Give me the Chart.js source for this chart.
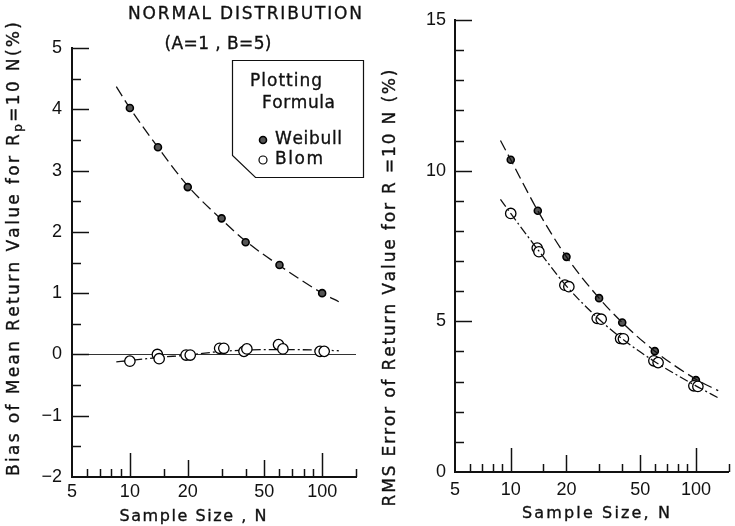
<!DOCTYPE html>
<html>
<head>
<meta charset="utf-8">
<script src="https://cdn.jsdelivr.net/npm/chart.js@4.4.1/dist/chart.umd.min.js"></script>
<style>
html,body{margin:0;padding:0;background:#fff;}
#wrap{position:relative;width:735px;height:526px;overflow:hidden;}
#left{position:absolute;left:0;top:0;}
#right{position:absolute;left:370px;top:0;}
</style>
</head>
<body>
<div id="wrap">
<canvas id="left" width="370" height="526"></canvas>
<canvas id="right" width="365" height="526"></canvas>
</div>
<script>
// sample sizes
var sampleN = [10, 14, 20, 30, 40, 60, 100];
var blomN = [10, 13.9, 14.2, 19.6, 20.6, 29.3, 30.8, 39.2, 40.6, 59.3, 62.5, 97.5, 102.5];
// left panel: bias of mean return value (%)
var biasWeibull = [4.02, 3.38, 2.73, 2.22, 1.83, 1.46, 1.0];
var biasBlom = [-0.11, 0.0, -0.07, -0.01, -0.01, 0.10, 0.10, 0.05, 0.09, 0.16, 0.09, 0.05, 0.05];
// fitted curves
var curveNLeft = [8.5, 10, 14, 20, 30, 40, 60, 100, 122];
var biasWeibullFit = [4.37, 4.02, 3.38, 2.75, 2.2, 1.85, 1.45, 1.0, 0.86];
var biasBlomFit = [-0.12, -0.1, -0.05, -0.01, 0.05, 0.07, 0.08, 0.07, 0.06];
// right panel: rms error of return value (%)
var rmsWeibull = [10.36, 8.67, 7.14, 5.77, 4.96, 4.01, 3.05];
var rmsBlom = [8.58, 7.43, 7.31, 6.2, 6.15, 5.10, 5.07, 4.43, 4.42, 3.69, 3.63, 2.86, 2.84];
var curveNRight = [8.8, 10, 14, 20, 30, 40, 60, 100, 132];
var rmsWeibullFit = [11.0, 10.36, 8.67, 7.14, 5.77, 4.96, 4.01, 3.08, 2.7];
var rmsBlomFit = [9.05, 8.58, 7.38, 6.17, 5.07, 4.42, 3.66, 2.86, 2.46];
// axis ticks
var xTicks = [5, 10, 20, 50, 100];
var xMinor = [6, 7, 8, 9, 15, 30, 40, 60, 70, 80, 90, 150];
var yTicksLeft = [-1, 0, 1, 2, 3, 4, 5];
var yMinorLeft = [-1.5, -0.5, 0.5, 1.5, 2.5, 3.5, 4.5];
var yTicksRight = [5, 10, 15];
var yMinorRight = [1, 2, 3, 4, 6, 7, 8, 9, 11, 12, 13, 14];

var INK = '#111';
var FONT = '17px "DejaVu Sans"';

function pts(xs, ys) {
    return xs.map(function (x, i) { return {x: x, y: ys[i]}; });
}
function weibullSet(xs, ys) {
    return {data: pts(xs, ys), pointRadius: 3.5, pointBackgroundColor: '#555',
        pointBorderColor: '#000', pointBorderWidth: 1.6, showLine: false};
}
function blomSet(xs, ys) {
    return {data: pts(xs, ys), pointRadius: 5.2, pointBackgroundColor: '#fff',
        pointBorderColor: '#000', pointBorderWidth: 1.3, showLine: false};
}
function fitSet(xs, ys, dash) {
    return {data: pts(xs, ys), showLine: true, pointRadius: 0, borderColor: INK,
        borderWidth: 1.3, borderDash: dash, cubicInterpolationMode: 'monotone', fill: false};
}

// draws text spread out to a given length, char by char
function spacedText(ctx, parts, cx, cy, width, rot) {
    ctx.save();
    ctx.translate(cx, cy);
    if (rot) ctx.rotate(rot);
    ctx.textBaseline = 'middle';
    ctx.textAlign = 'left';
    ctx.fillStyle = INK;
    ctx.strokeStyle = INK;
    ctx.lineWidth = 0.35;
    var chars = [];
    parts.forEach(function (p) {
        for (var c of p.t) chars.push({c: c, font: p.font || FONT, dy: p.dy || 0});
    });
    var nat = 0;
    chars.forEach(function (ch) { ctx.font = ch.font; ch.w = ctx.measureText(ch.c).width; nat += ch.w; });
    var gap = chars.length > 1 ? (width - nat) / (chars.length - 1) : 0;
    var x = -width / 2;
    chars.forEach(function (ch) {
        ctx.font = ch.font;
        ctx.fillText(ch.c, x, ch.dy);
        ctx.strokeText(ch.c, x, ch.dy);
        x += ch.w + gap;
    });
    ctx.restore();
}

// inward tick marks on both axes
function drawTicks(chart, yMajor, yMinor) {
    var ctx = chart.ctx, a = chart.chartArea, xs = chart.scales.x, ys = chart.scales.y;
    ctx.save();
    ctx.setLineDash([]);
    ctx.strokeStyle = INK;
    ctx.lineWidth = 1.5;
    xTicks.concat(xMinor).forEach(function (v) {
        if (v === 5) return;
        var px = Math.round(xs.getPixelForValue(v)) + 0.5;
        var len = (v === 10 || v === 100) ? 24 : (v === 20 || v === 50) ? 17 : 8;
        ctx.beginPath();
        ctx.moveTo(px, a.bottom);
        ctx.lineTo(px, a.bottom - len);
        ctx.stroke();
    });
    yMajor.forEach(function (v) {
        var py = Math.round(ys.getPixelForValue(v)) + 0.5;
        ctx.beginPath();
        ctx.moveTo(a.left, py);
        ctx.lineTo(a.left + 17, py);
        ctx.stroke();
    });
    yMinor.forEach(function (v) {
        var py = Math.round(ys.getPixelForValue(v)) + 0.5;
        ctx.beginPath();
        ctx.moveTo(a.left, py);
        ctx.lineTo(a.left + 9, py);
        ctx.stroke();
    });
    ctx.restore();
}

function marker(ctx, ds, x, y) {
    ctx.beginPath();
    ctx.arc(x, y, ds.pointRadius, 0, Math.PI * 2);
    ctx.fillStyle = ds.pointBackgroundColor;
    ctx.fill();
    ctx.lineWidth = ds.pointBorderWidth;
    ctx.strokeStyle = ds.pointBorderColor;
    ctx.stroke();
}

var leftDeco = {
    id: 'leftDeco',
    beforeDatasetsDraw: function (chart) {
        var ctx = chart.ctx, a = chart.chartArea, py = Math.round(chart.scales.y.getPixelForValue(0)) + 0.5;
        ctx.save();
        ctx.strokeStyle = '#333';
        ctx.lineWidth = 1;
        ctx.beginPath();
        ctx.moveTo(a.left, py);
        ctx.lineTo(a.right, py);
        ctx.stroke();
        ctx.restore();
    },
    afterDraw: function (chart) {
        var ctx = chart.ctx;
        drawTicks(chart, yTicksLeft, yMinorLeft);
        spacedText(ctx, [{t: 'NORMAL DISTRIBUTION'}], 245, 15, 234);
        spacedText(ctx, [{t: '(A=1 , B=5)'}], 218, 45, 107);
        spacedText(ctx, [{t: 'Sample Size , N', font: '16px "DejaVu Sans"'}], 193, 517, 147);
        spacedText(ctx, [
            {t: 'Bias of Mean Return Value for R'},
            {t: 'p', font: '12px "DejaVu Sans"', dy: 4},
            {t: '=10 N(%)'}
        ], 15, 249, 454, -Math.PI / 2);
        // legend box
        ctx.save();
        ctx.strokeStyle = INK;
        ctx.lineWidth = 1.2;
        ctx.beginPath();
        ctx.moveTo(232.5, 60.5);
        ctx.lineTo(363.5, 60.5);
        ctx.lineTo(363.5, 177.5);
        ctx.lineTo(255.5, 177.5);
        ctx.lineTo(232.5, 155.5);
        ctx.closePath();
        ctx.stroke();
        var ds = chart.data.datasets;
        marker(ctx, ds[0], 263, 140);
        marker(ctx, {pointRadius: 4, pointBackgroundColor: '#fff', pointBorderColor: '#000', pointBorderWidth: 1.2}, 263, 160);
        ctx.restore();
        spacedText(ctx, [{t: 'Plotting'}], 286, 82, 72);
        spacedText(ctx, [{t: 'Formula'}], 298.5, 104, 73);
        spacedText(ctx, [{t: 'Weibull'}], 308.5, 140, 67);
        spacedText(ctx, [{t: 'Blom'}], 299, 160, 48);
    }
};

var rightDeco = {
    id: 'rightDeco',
    afterDraw: function (chart) {
        var ctx = chart.ctx;
        drawTicks(chart, yTicksRight, yMinorRight);
        spacedText(ctx, [{t: 'Sample Size, N', font: '16px "DejaVu Sans"'}], 226, 514, 148);
        spacedText(ctx, [{t: 'RMS Error of Return Value for R =10 N (%)'}], 21, 288, 437, -Math.PI / 2);
    }
};

function xScale(h, pad) {
    return {
        type: 'logarithmic', min: 5, max: 150,
        afterBuildTicks: function (s) { s.ticks = xTicks.map(function (v) { return {value: v}; }); },
        afterFit: function (s) { s.height = h; },
        grid: {display: false, drawTicks: false},
        border: {display: true, color: INK, width: 2},
        ticks: {color: INK, font: {family: 'Liberation Sans', size: 18}, padding: pad,
            autoSkip: false, maxRotation: 0, callback: function (v) { return String(v); }}
    };
}
function yScale(w, min, max, step, pad) {
    return {
        type: 'linear', min: min, max: max,
        afterFit: function (s) { s.width = w; },
        grid: {display: false, drawTicks: false},
        border: {display: true, color: INK, width: 2},
        ticks: {stepSize: step, color: INK, font: {family: 'Liberation Sans', size: 18}, padding: pad,
            callback: function (v) { return v < 0 ? '\u2212' + (-v) : String(v); }}
    };
}

var common = {
    responsive: false, animation: false, devicePixelRatio: 1,
    plugins: {legend: {display: false}, tooltip: {enabled: false}}
};

new Chart(document.getElementById('left'), {
    type: 'scatter',
    data: {datasets: [
        weibullSet(sampleN, biasWeibull),
        blomSet(blomN, biasBlom),
        fitSet(curveNLeft, biasWeibullFit, [11, 5]),
        fitSet(curveNLeft, biasBlomFit, [9, 3, 2, 3])
    ]},
    options: Object.assign({}, common, {
        layout: {padding: {top: 48, right: 14, left: 0, bottom: 0}},
        scales: {x: xScale(49, 4), y: yScale(72, -2, 5, 1, 10)}
    }),
    plugins: [leftDeco]
});

new Chart(document.getElementById('right'), {
    type: 'scatter',
    data: {datasets: [
        fitSet(curveNRight, rmsWeibullFit, [11, 5]),
        fitSet(curveNRight, rmsBlomFit, [9, 3, 2, 3]),
        blomSet(blomN, rmsBlom),
        weibullSet(sampleN, rmsWeibull)
    ]},
    options: Object.assign({}, common, {
        layout: {padding: {top: 20, right: 0, left: 0, bottom: 0}},
        scales: {x: xScale(54, 7), y: yScale(85, 0, 15, 5, 9)}
    }),
    plugins: [rightDeco]
});
</script>
</body>
</html>
